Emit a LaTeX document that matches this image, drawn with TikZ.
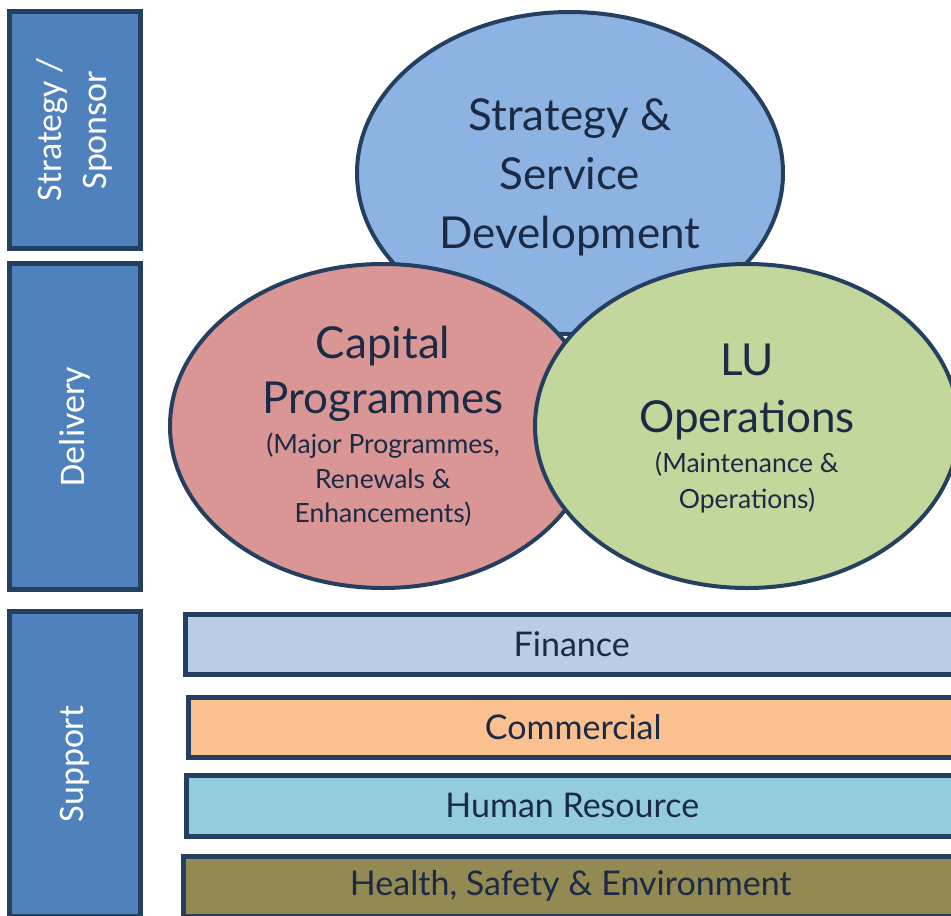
\documentclass[tikz,border=0pt]{standalone}
\usepackage{fontspec}
\usetikzlibrary{shapes.geometric}
\newfontfamily\jfont{Lato}
\newfontfamily\cfont{Carlito}
\definecolor{edge}{HTML}{243F60}
\definecolor{txt}{HTML}{1B2A45}
\definecolor{sidefill}{HTML}{4F81BD}
\definecolor{bluefill}{HTML}{8DB3E2}
\definecolor{redfill}{HTML}{D99694}
\definecolor{greenfill}{HTML}{C3D69B}
\definecolor{finfill}{HTML}{B9CDE5}
\definecolor{comfill}{HTML}{FAC090}
\definecolor{hrfill}{HTML}{93CDDD}
\definecolor{hsefill}{HTML}{938953}
\begin{document}
\begin{tikzpicture}[x=1pt,y=-1pt,
 sidebar/.style={draw=edge, line width=5pt, fill=sidefill, rectangle, inner sep=0pt, outer sep=0pt},
 sidelabel/.style={rotate=90, text=white, font=\cfont\fontsize{36}{45}\selectfont, align=center, inner sep=0pt},
 bubble/.style={ellipse, draw=edge, line width=4pt, inner sep=0pt, outer sep=0pt},
 bigline/.style={anchor=base, text=txt, font=\jfont\fontsize{44}{50}\selectfont, inner sep=0pt},
 smallline/.style={anchor=base, text=txt, font=\jfont\fontsize{26.5}{30}\selectfont, inner sep=0pt},
 band/.style={rectangle, draw=edge, line width=5pt, inner sep=0pt, outer sep=0pt, text=txt, font=\jfont\fontsize{34}{40}\selectfont}]
\useasboundingbox (0,0) rectangle (951,916);
\clip (0,0) rectangle (951,916);
\fill[white] (0,0) rectangle (951,916);
% side bars
\node[sidebar, minimum width=130.7pt, minimum height=236.4pt] (sbar1) at (74.85,130) {};
\node[sidebar, minimum width=130.7pt, minimum height=326pt] (sbar2) at (74.85,426.5) {};
\node[sidebar, minimum width=130.7pt, minimum height=304.5pt] (sbar3) at (74.85,763.75) {};
\node[sidelabel] (lab1) at (sbar1.center) {Strategy /\\Sponsor};
\node[sidelabel] (lab2) at (sbar2.center) {Delivery};
\node[sidelabel] (lab3) at (sbar3.center) {Support};
% ellipses
\node[bubble, fill=bluefill, minimum width=426pt, minimum height=322pt] (ssd) at (570,173) {};
\node[bigline] (ssd1) at (570,130) {Strategy \&};
\node[bigline] (ssd2) at (570,189) {Service};
\node[bigline] (ssd3) at (570,248) {Development};
\node[bubble, fill=redfill, minimum width=426pt, minimum height=324pt] (cap) at (383,426) {};
\node[bigline] (cap1) at (383,358) {Capital};
\node[bigline] (cap2) at (383,413) {Programmes};
\node[smallline] (cap3) at (383,453) {(Major Programmes,};
\node[smallline] (cap4) at (383,488) {Renewals \&};
\node[smallline] (cap5) at (383,522) {Enhancements)};
\node[bubble, fill=greenfill, minimum width=424pt, minimum height=324pt] (luo) at (747,426) {};
\node[bigline] (luo1) at (747,375) {LU};
\node[bigline] (luo2) at (747,432) {Operations};
\node[smallline] (luo3) at (747,472) {(Maintenance \&};
\node[smallline] (luo4) at (747,508) {Operations)};
% support bands
\node[band, fill=finfill, minimum width=772.5pt, minimum height=60pt] (fin) at (571.75,644.5) {Finance};
\node[band, fill=comfill, minimum width=769.5pt, minimum height=60pt] (com) at (573.25,727.5) {Commercial};
\node[band, fill=hrfill, minimum width=771.5pt, minimum height=60.5pt] (hr) at (572.25,805.75) {Human Resource};
\node[band, fill=hsefill, minimum width=774.5pt, minimum height=59.5pt] (hse) at (570.75,886.25) {Health, Safety \& Environment};
\end{tikzpicture}
\end{document}
